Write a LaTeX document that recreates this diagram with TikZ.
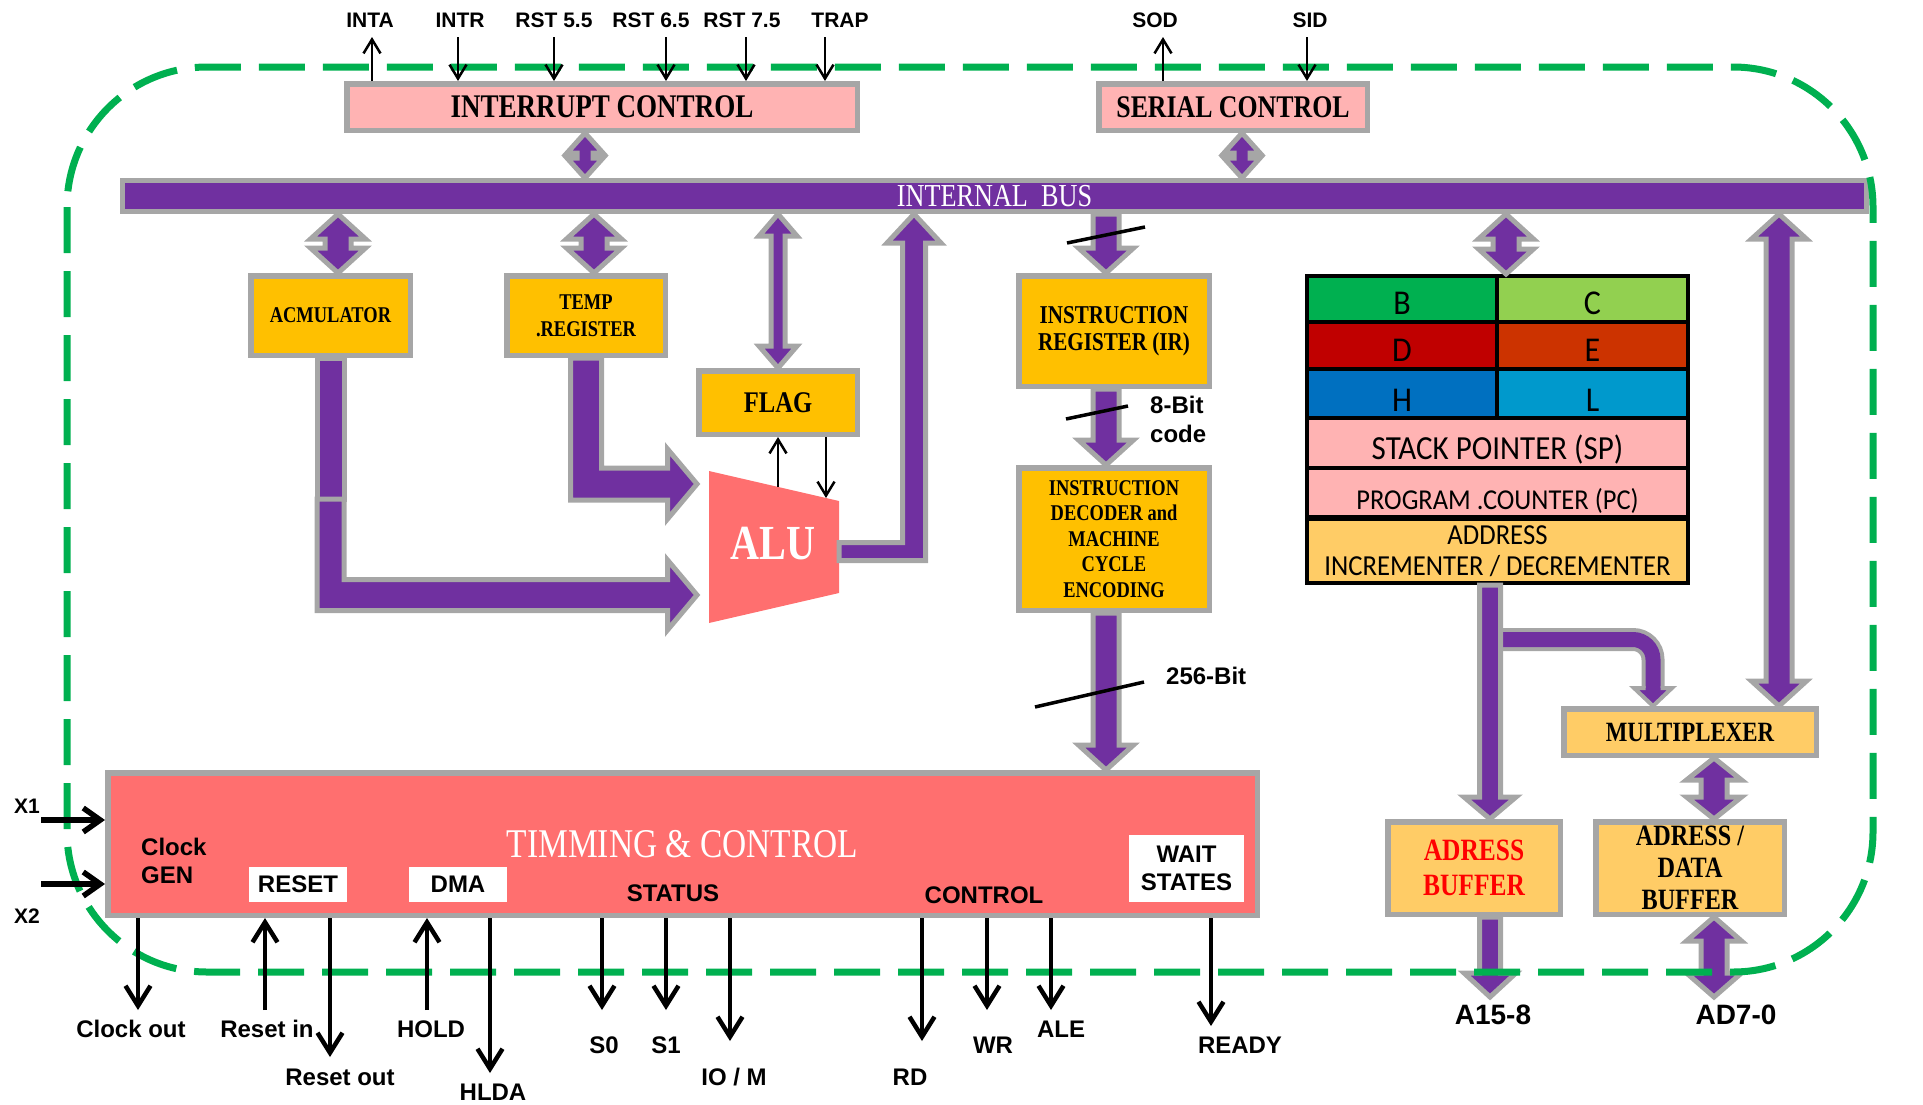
\documentclass[tikz,border=0pt]{standalone}
\usepackage{fontspec}
\setmainfont{Liberation Serif}
\newfontfamily\ttlfont[FakeStretch=0.82]{Liberation Serif}
\newfontfamily\lblfont{Liberation Sans}
\newfontfamily\regfont[FakeStretch=0.92]{Carlito}
\usetikzlibrary{arrows.meta,calc}

\definecolor{cPurple}{HTML}{7030A0}
\definecolor{cGray}{HTML}{A6A6A6}
\definecolor{cOrange}{HTML}{FFC000}
\definecolor{cLtOrange}{HTML}{FFCC66}
\definecolor{cPink}{HTML}{FFB3B3}
\definecolor{cSalmon}{HTML}{FF6F6F}
\definecolor{cGreen}{HTML}{00B050}
\definecolor{cRegB}{HTML}{00B050}
\definecolor{cRegC}{HTML}{92D050}
\definecolor{cRegD}{HTML}{C00000}
\definecolor{cRegE}{HTML}{CC3300}
\definecolor{cRegH}{HTML}{0070C0}
\definecolor{cRegL}{HTML}{0099CC}

% fat bus arrows: #1 point giving x, #2 top point, #3 bottom point,
% #4 shaft half width, #5 head half width, #6 head length
\newcommand\dblV[6]{%
  \filldraw[fat] let \p1=(#1), \p2=(#2), \p3=(#3) in
  (\x1,\y2) -- (\x1+#5pt,\y2-#6pt) -- (\x1+#4pt,\y2-#6pt) -- (\x1+#4pt,\y3+#6pt)
  -- (\x1+#5pt,\y3+#6pt) -- (\x1,\y3) -- (\x1-#5pt,\y3+#6pt) -- (\x1-#4pt,\y3+#6pt)
  -- (\x1-#4pt,\y2-#6pt) -- (\x1-#5pt,\y2-#6pt) -- cycle;}
\newcommand\downV[6]{%
  \filldraw[fat] let \p1=(#1), \p2=(#2), \p3=(#3) in
  (\x1-#4pt,\y2) -- (\x1+#4pt,\y2) -- (\x1+#4pt,\y3+#6pt) -- (\x1+#5pt,\y3+#6pt)
  -- (\x1,\y3) -- (\x1-#5pt,\y3+#6pt) -- (\x1-#4pt,\y3+#6pt) -- cycle;}
% text set lower inside its cell without changing the cell
\newcommand\lowered[2]{\raisebox{-#1}[\height][\depth]{#2}}

\begin{document}
\begin{tikzpicture}[x=1pt,y=-1pt,
  blk/.style={draw=cGray, line width=5.5pt, inner sep=0pt, align=center},
  fat/.style={fill=cPurple, draw=cGray, line width=5pt, line join=miter},
  reg/.style={draw=black, line width=4pt, inner sep=0pt, align=center},
  regbig/.style={reg, font=\regfont\fontsize{34.8pt}{38pt}\selectfont},
  sig/.style={line width=2.5pt, -{Straight Barb[length=14pt,width=17pt]}},
  bsig/.style={line width=4.5pt, -{Straight Barb[length=20pt,width=25pt]}},
  xsig/.style={line width=5.5pt, -{Straight Barb[length=17pt,width=24pt]}},
  tlab/.style={inner sep=0pt, font=\lblfont\bfseries\fontsize{21pt}{25pt}\selectfont},
  blab/.style={inner sep=0pt, font=\lblfont\bfseries\fontsize{24pt}{28pt}\selectfont, align=center},
  wbox/.style={fill=white, inner sep=0pt, align=center, font=\lblfont\bfseries\fontsize{24pt}{28pt}\selectfont}]
\useasboundingbox (0,0) rectangle (1923,1104);

% ---------- blocks ----------
\node[blk, fill=cPink, minimum width=510.5pt, minimum height=46.5pt,
  font=\ttlfont\bfseries\fontsize{33pt}{35pt}\selectfont] (intc) at (602,107) {INTERRUPT CONTROL};
\node[blk, fill=cPink, minimum width=268.5pt, minimum height=46.5pt,
  font=\ttlfont\bfseries\fontsize{31.5pt}{33pt}\selectfont] (serc) at (1233,107) {SERIAL CONTROL};
\node[blk, line width=5pt, fill=cPurple, minimum width=1744pt, minimum height=31pt, text=white,
  font=\ttlfont\fontsize{32pt}{34pt}\selectfont] (bus) at (994.5,196) {INTERNAL~~BUS};

\node[blk, fill=cOrange, minimum width=159.5pt, minimum height=79.5pt,
  font=\ttlfont\bfseries\fontsize{22.5pt}{27pt}\selectfont] (acc) at (330.5,315.5) {ACMULATOR};
\node[blk, fill=cOrange, minimum width=158.5pt, minimum height=79.5pt,
  font=\ttlfont\bfseries\fontsize{22.5pt}{27pt}\selectfont] (temp) at (586,315.5) {TEMP\\.REGISTER};
\node[blk, fill=cOrange, minimum width=158.5pt, minimum height=63.5pt,
  font=\ttlfont\bfseries\fontsize{30pt}{32pt}\selectfont] (flag) at (778,402.5) {FLAG};
\node[blk, fill=cOrange, minimum width=190.5pt, minimum height=110.5pt,
  font=\ttlfont\bfseries\fontsize{25.7pt}{27pt}\selectfont] (ir) at (1114,331) {INSTRUCTION\\REGISTER (IR)};
\node[blk, fill=cOrange, minimum width=190.5pt, minimum height=142.5pt,
  font=\ttlfont\bfseries\fontsize{22.5pt}{25.6pt}\selectfont] (dec) at (1114,539)
  {INSTRUCTION\\DECODER and\\MACHINE\\CYCLE\\ENCODING};
\node[blk, fill=cSalmon, minimum width=1149.5pt, minimum height=142.5pt, text=white,
  font=\ttlfont\fontsize{40.8pt}{42pt}\selectfont] (tc) at (682.5,844) {TIMMING \& CONTROL};
\node[blk, fill=cLtOrange, minimum width=252.5pt, minimum height=46.5pt,
  font=\ttlfont\bfseries\fontsize{27.9pt}{30pt}\selectfont] (mux) at (1690,732) {MULTIPLEXER};
\node[blk, fill=cLtOrange, minimum width=172.5pt, minimum height=92.5pt, text=red,
  font=\ttlfont\bfseries\fontsize{31pt}{35pt}\selectfont] (abuf) at (1474,868) {ADRESS\\BUFFER};
\node[blk, fill=cLtOrange, minimum width=188.5pt, minimum height=92.5pt,
  font=\ttlfont\bfseries\fontsize{29.5pt}{32pt}\selectfont] (adbuf) at (1690,868) {ADRESS /\\DATA\\BUFFER};

% parts of the timing block
\node[blab, anchor=west, align=left] (clkgen) at (141,861) {Clock\\GEN};
\node[wbox, minimum width=98pt, minimum height=35pt] (reset) at (298,884.5) {RESET};
\node[wbox, minimum width=98pt, minimum height=35pt] (dma) at (458,884.5) {DMA};
\node[blab] (status) at (673,893) {STATUS};
\node[blab] (control) at (984,895) {CONTROL};
\node[wbox, minimum width=115pt, minimum height=67pt] (wait) at (1186.5,868.5) {WAIT\\STATES};

% register file
\node[regbig, fill=cRegB, minimum width=190pt, minimum height=46pt] (rB) at (1402,299) {\lowered{4pt}{B}};
\node[regbig, fill=cRegC, minimum width=191pt, minimum height=46pt] (rC) at (1592.5,299) {\lowered{4pt}{C}};
\node[regbig, fill=cRegD, minimum width=190pt, minimum height=47pt] (rD) at (1402,345.5) {\lowered{5pt}{D}};
\node[regbig, fill=cRegE, minimum width=191pt, minimum height=47pt] (rE) at (1592.5,345.5) {\lowered{5pt}{E}};
\node[regbig, fill=cRegH, minimum width=190pt, minimum height=49pt] (rH) at (1402,393.5) {\lowered{7pt}{H}};
\node[regbig, fill=cRegL, minimum width=191pt, minimum height=49pt] (rL) at (1592.5,393.5) {\lowered{7pt}{L}};
\node[reg, fill=cPink, minimum width=381pt, minimum height=50pt,
  font=\regfont\fontsize{33.7pt}{36pt}\selectfont] (sp) at (1497.5,443) {\lowered{7pt}{STACK POINTER (SP)}};
\node[reg, fill=cPink, minimum width=381pt, minimum height=49pt,
  font=\regfont\fontsize{28.8pt}{31pt}\selectfont] (pc) at (1497.5,492.5) {\lowered{8pt}{PROGRAM .COUNTER (PC)}};
\node[reg, fill=cLtOrange, minimum width=381pt, minimum height=64pt,
  font=\regfont\fontsize{29pt}{31pt}\selectfont] (inc) at (1497.5,551) {ADDRESS\\INCREMENTER / DECREMENTER};

% ---------- ALU ----------
\fill[cSalmon] (709,471) -- (839,501) -- (839,593) -- (709,623) -- cycle;
\node[inner sep=0pt, text=white, font=\ttlfont\bfseries\fontsize{49pt}{50pt}\selectfont] (alu) at (773,544) {ALU};
\coordinate (aluin1) at (697,484);
\coordinate (aluin2) at (697,595);
\coordinate (aluout) at (839,551.5);
\coordinate (aluF1) at (778,487);
\coordinate (aluF2) at (826,498);

% ---------- bus arrows ----------
\dblV{[xshift=-17pt]intc.south}{intc.south}{bus.north}{8}{18}{20}
\dblV{[xshift=9pt]serc.south}{serc.south}{bus.north}{8}{18}{20}
\dblV{[xshift=7.5pt]acc.north}{bus.south}{acc.north}{13}{27.5}{25}
\dblV{[xshift=8pt]temp.north}{bus.south}{temp.north}{13}{27.5}{25}
\dblV{flag.north}{bus.south}{flag.north}{7}{19}{22}
\dblV{[xshift=7pt]rB.north east}{bus.south}{rB.north east}{13}{27.5}{25}
\dblV{[xshift=89pt]mux.north}{bus.south}{mux.north}{13}{27.5}{25}
\downV{[xshift=-8pt]ir.north}{bus.south}{ir.north}{13}{27.5}{25}
\downV{[xshift=-8pt]ir.south}{ir.south}{dec.north}{13}{27.5}{25}
\downV{[xshift=-8pt]dec.south}{dec.south}{tc.north}{13}{27.5}{25}
\dblV{[xshift=24pt]adbuf.north}{mux.south}{adbuf.north}{13}{27.5}{22}

% accumulator and temp register into the ALU
\filldraw[fat] let \p1=(acc.south) in (\x1-13.5pt,\y1) rectangle (\x1+13.5pt,\y1-141pt);
\filldraw[fat] let \p1=(acc.south), \p2=(aluin2) in
  (\x1-13.5pt,\y1-141pt) -- (\x1+13.5pt,\y1-141pt) -- (\x1+13.5pt,\y2+15.5pt)
  -- (\x2-29.5pt,\y2+15.5pt) -- (\x2-29.5pt,\y2+35pt) -- (\x2,\y2) -- (\x2-29.5pt,\y2-35pt)
  -- (\x2-29.5pt,\y2-15.5pt) -- (\x1-13.5pt,\y2-15.5pt) -- cycle;
\filldraw[fat] let \p1=(temp.south), \p2=(aluin1) in
  (\x1-15.5pt,\y1) -- (\x1+15.5pt,\y1) -- (\x1+15.5pt,\y2+16pt)
  -- (\x2-29.5pt,\y2+16pt) -- (\x2-29.5pt,\y2+35pt) -- (\x2,\y2) -- (\x2-29.5pt,\y2-35pt)
  -- (\x2-29.5pt,\y2-16pt) -- (\x1-15.5pt,\y2-16pt) -- cycle;
% ALU result back to the bus
\filldraw[fat] let \p1=(aluout), \p2=([xshift=-80.5pt]bus.south) in
  (\x1,\y1+9pt) -- (\x2-11.5pt,\y1+9pt) -- (\x2-11.5pt,\y2-29pt) -- (\x2-27pt,\y2-29pt)
  -- (\x2,\y2) -- (\x2+27pt,\y2-29pt) -- (\x2+11.5pt,\y2-29pt) -- (\x2+11.5pt,\y1-9pt)
  -- (\x1,\y1-9pt) -- cycle;

% address path
\coordinate (a158) at (1490,997);
\coordinate (ad70) at (1714,997);
\draw[draw=cGray, double=cPurple, double distance=15pt, line width=4pt, rounded corners=20pt]
  ([xshift=-7.5pt,yshift=-54.5pt]inc.south) -| ([xshift=-37pt,yshift=18pt]mux.north);
\fill[cPurple] let \p1=([xshift=-37pt]mux.north) in
  (\x1-19pt,\y1+18pt) -- (\x1,\y1) -- (\x1+19pt,\y1+18pt) -- cycle;
\draw[cGray, line width=4pt] let \p1=([xshift=-37pt]mux.north) in
  (\x1-7.5pt,\y1+18pt) -- (\x1-19pt,\y1+18pt) -- (\x1,\y1) -- (\x1+19pt,\y1+18pt) -- (\x1+7.5pt,\y1+18pt);
\downV{[xshift=-7.5pt]inc.south}{inc.south}{abuf.north}{10.5}{26}{22}
\downV{[xshift=16pt]abuf.south}{abuf.south}{a158}{10.5}{26}{24}
\dblV{[xshift=24pt]adbuf.south}{adbuf.south}{ad70}{13}{27.5}{24}
\node[blab, font=\lblfont\bfseries\fontsize{28pt}{30pt}\selectfont] (la158) at (1493,1015) {A15-8};
\node[blab, font=\lblfont\bfseries\fontsize{28pt}{30pt}\selectfont] (lad70) at (1736,1015) {AD7-0};

% ---------- chip outline ----------
\draw[cGreen, line width=7pt, dash pattern=on 46pt off 18pt, rounded corners=140pt]
  (67,67) rectangle (1873,972);

% ---------- bus width marks ----------
\draw[line width=3.5pt] (1067,243) -- (1145,227);
\draw[line width=3.5pt] (1066,419) -- (1128,406);
\draw[line width=3.5pt] (1035,707) -- (1144,682);
\node[blab, anchor=west, align=left, font=\lblfont\bfseries\fontsize{24pt}{29pt}\selectfont] (l8bit) at (1150,419.5) {8-Bit\\code};
\node[blab, anchor=west] (l256) at (1166,676) {256-Bit};

% ---------- flag / ALU ----------
\draw[sig] (aluF1) -- (aluF1 |- flag.south);
\draw[sig] (aluF2 |- flag.south) -- (aluF2);

% ---------- interrupt and serial pins ----------
\coordinate (pINTA) at (372,37);
\coordinate (pINTR) at (458,37);
\coordinate (pR55) at (554,37);
\coordinate (pR65) at (666,37);
\coordinate (pR75) at (746,37);
\coordinate (pTRAP) at (825,37);
\coordinate (pSOD) at (1163,37);
\coordinate (pSID) at (1307,37);
\draw[sig] (pINTA |- intc.north) -- (pINTA);
\draw[sig] (pINTR) -- (pINTR |- intc.north);
\draw[sig] (pR55) -- (pR55 |- intc.north);
\draw[sig] (pR65) -- (pR65 |- intc.north);
\draw[sig] (pR75) -- (pR75 |- intc.north);
\draw[sig] (pTRAP) -- (pTRAP |- intc.north);
\draw[sig] (pSOD |- serc.north) -- (pSOD);
\draw[sig] (pSID) -- (pSID |- serc.north);
\node[tlab] (lINTA) at (370,20) {INTA};
\node[tlab] (lINTR) at (460,20) {INTR};
\node[tlab] (lR55) at (554,20) {RST 5.5};
\node[tlab] (lR65) at (651,20) {RST 6.5};
\node[tlab] (lR75) at (742,20) {RST 7.5};
\node[tlab] (lTRAP) at (840,20) {TRAP};
\node[tlab] (lSOD) at (1155,20) {SOD};
\node[tlab] (lSID) at (1310,20) {SID};

% ---------- clock inputs ----------
\coordinate (pX1) at (41,820);
\coordinate (pX2) at (41,884);
\draw[xsig] (pX1) -- (pX1 -| tc.west);
\draw[xsig] (pX2) -- (pX2 -| tc.west);
\node[tlab] (lX1) at (27,806) {X1};
\node[tlab] (lX2) at (27,916) {X2};

% ---------- timing and control pins ----------
\coordinate (pCout) at (138,1010);
\coordinate (pRin) at (265,1010);
\coordinate (pRout) at (330,1057);
\coordinate (pHold) at (427,1010);
\coordinate (pHlda) at (490,1073);
\coordinate (pS0) at (602,1010);
\coordinate (pS1) at (666,1010);
\coordinate (pIOM) at (730,1041);
\coordinate (pRD) at (922,1041);
\coordinate (pWR) at (987,1010);
\coordinate (pALE) at (1051,1010);
\coordinate (pReady) at (1211,1026);
\draw[bsig] (pCout |- tc.south) -- (pCout);
\draw[bsig] (pRin) -- (pRin |- tc.south);
\draw[bsig] (pRout |- tc.south) -- (pRout);
\draw[bsig] (pHold) -- (pHold |- tc.south);
\draw[bsig] (pHlda |- tc.south) -- (pHlda);
\draw[bsig] (pS0 |- tc.south) -- (pS0);
\draw[bsig] (pS1 |- tc.south) -- (pS1);
\draw[bsig] (pIOM |- tc.south) -- (pIOM);
\draw[bsig] (pRD |- tc.south) -- (pRD);
\draw[bsig] (pWR |- tc.south) -- (pWR);
\draw[bsig] (pALE |- tc.south) -- (pALE);
\draw[bsig] (pReady |- tc.south) -- (pReady);
\node[blab] (lCout) at (131,1029) {Clock out};
\node[blab] (lRin) at (267,1029) {Reset in};
\node[blab] (lRout) at (340,1077) {Reset out};
\node[blab] (lHold) at (431,1029) {HOLD};
\node[blab] (lHlda) at (493,1092) {HLDA};
\node[blab] (lS0) at (604,1045) {S0};
\node[blab] (lS1) at (666,1045) {S1};
\node[blab] (lIOM) at (734,1077) {IO / M};
\node[blab] (lRD) at (910,1077) {RD};
\node[blab] (lWR) at (993,1045) {WR};
\node[blab] (lALE) at (1061,1029) {ALE};
\node[blab] (lReady) at (1240,1045) {READY};
\end{tikzpicture}
\end{document}
